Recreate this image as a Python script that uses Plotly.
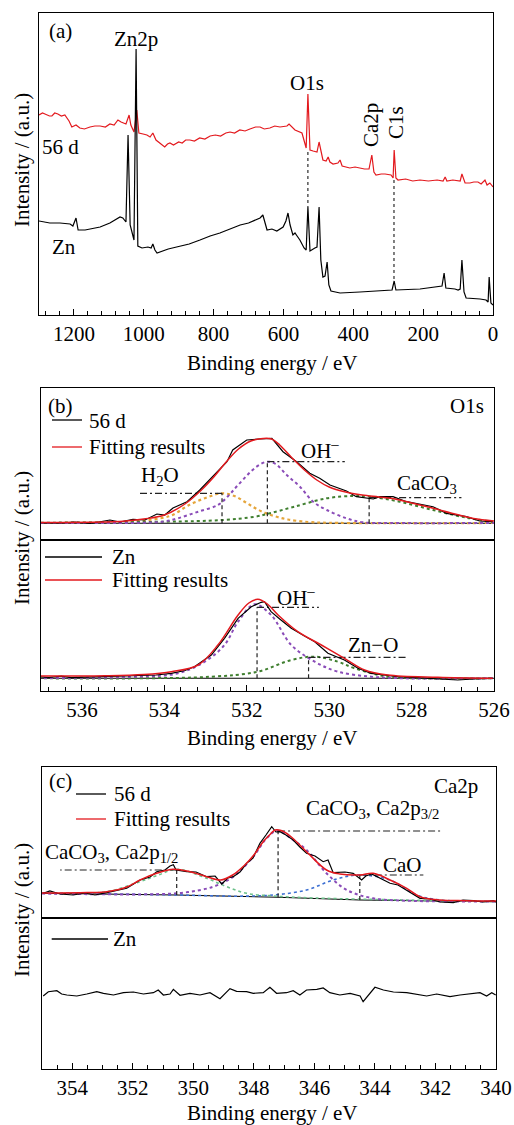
import plotly.graph_objects as go

# ---------------- data: panel (a) XPS survey ----------------
a_56d_be = [1300, 1290, 1283, 1270, 1263, 1255, 1246, 1236, 1226, 1214, 1206, 1194, 1183, 1170, 1154,
            1140, 1125, 1110, 1097, 1085, 1074, 1065, 1051, 1042, 1037, 1028, 1020, 1014, 1002, 991,
            982, 974, 965, 948, 940, 932, 925, 915, 900, 890, 880, 868, 855, 840, 825, 810, 795, 780,
            765, 753, 740, 725, 710, 696, 680, 667, 655, 639, 625, 610, 590, 584, 567, 547, 538, 535,
            530, 524, 515, 504, 498, 493, 487, 478, 472, 467, 458, 444, 438, 432, 420, 410, 395, 381,
            368, 355, 347, 341, 335, 320, 309, 292, 286, 283, 278, 272, 250, 230, 209, 185, 160, 143,
            137, 132, 115, 94, 89, 80, 66, 55, 43, 34, 23, 17, 9, 0]
a_56d_int = [200, 202, 201, 199, 199, 202, 201, 199, 200, 194, 188, 190, 187, 186, 188,
             189, 189, 188, 191, 190, 195, 193, 191, 200, 190, 183, 205, 182, 181, 180,
             178, 182, 175, 170, 168, 171, 172, 170, 173, 172, 175, 175, 174, 177, 176, 179, 180, 179,
             182, 183, 182, 185, 184, 186, 188, 188, 186, 187, 189, 188, 189, 191, 185, 182, 170, 167,
             221, 165, 164, 163, 173, 165, 155, 154, 158, 153, 151, 152, 155, 149, 148, 147, 148, 147,
             146, 146, 160, 143, 140, 141, 141, 140, 137, 165, 137, 135, 136, 134, 135, 134, 135, 134,
             138, 134, 135, 134, 141, 132, 132, 133, 133, 131, 135, 130, 132, 128]
a_zn_be = [1300, 1269, 1240, 1211, 1203, 1194, 1188, 1168, 1125, 1097, 1068, 1060, 1051, 1045, 1039,
           1031, 1028, 1022, 1017, 1005, 988, 979, 974, 968, 962, 930, 896, 870, 839, 810, 782, 750,
           724, 700, 681, 667, 659, 653, 647, 633, 619, 601, 593, 587, 581, 573, 567, 561, 553, 541,
           535, 530, 524, 510, 504, 498, 493, 487, 481, 475, 470, 464, 438, 381, 324, 289, 283, 278,
           209, 158, 146, 140, 135, 109, 100, 94, 89, 83, 77, 37, 20, 14, 11, 6, 0]
a_zn_int = [94, 92, 92, 91, 89, 97, 85, 85, 88, 92, 98, 97, 93, 180, 90, 80, 75, 266, 69, 67, 68, 67,
            71, 65, 62, 66, 69, 71, 75, 79, 82, 86, 90, 92, 95, 97, 100, 93, 85, 86, 84, 88, 94, 102,
            90, 80, 82, 79, 75, 67, 65, 108, 64, 67, 68, 108, 55, 38, 39, 53, 30, 24, 22, 23, 24, 25,
            34, 25, 26, 28, 29, 42, 27, 26, 25, 26, 55, 23, 17, 16, 15, 13, 38, 12, 10]
a_guide_be = [530, 283.5]          # O1s, C1s guides
a_guide_top = [163, 135]
a_guide_bot = [108, 33]
a_ticks = [1200, 1000, 800, 600, 400, 200, 0]

# ---------------- data: panel (b) O1s ----------------
b_56d_be = [537.0, 536.53, 536.17, 535.8, 535.32, 535.08, 534.76, 534.47, 534.18, 533.99, 533.79,
            533.45, 533.14, 532.82, 532.48, 532.34, 532.17, 532.0, 531.68, 531.39, 531.12, 530.79,
            530.47, 530.23, 529.98, 529.58, 529.34, 528.93, 528.77, 528.45, 528.12, 527.88, 527.48,
            527.15, 526.67, 526.35, 526.03]
b_56d_int = [17.3, 17, 18, 16.5, 20, 18, 20.7, 20, 26, 25, 32, 38.3, 50, 63.3, 78.3, 90, 95, 100, 101,
             101.7, 88.3, 78.3, 66.7, 61.7, 55, 49, 43.3, 41, 43.3, 43.3, 38.3, 36.7, 33.3, 26.7, 23.3,
             19, 18.3]
b_56d_fit_be = [537, 535.5, 535, 534.5, 534, 533.5, 533.1, 532.8, 532.5, 532.2, 531.9, 531.6, 531.4,
                531.2, 530.9, 530.6, 530.3, 530.0, 529.6, 529.2, 528.8, 528.4, 528.0, 527.5, 527.0,
                526.5, 526]
b_56d_fit_int = [17.5, 18, 18.7, 21, 25, 36, 50, 63, 78, 91, 99, 101.5, 101, 95, 82, 70, 60, 53, 48,
                 45, 43, 41, 37, 32, 26.5, 21.5, 19]
b_h2o_be = [537, 535.5, 535, 534.5, 534, 533.8, 533.4, 533.0, 532.6, 532.3, 532.05, 531.8, 531.55,
            531.3, 531.0, 530.5, 530.0, 526]
b_h2o_int = [17, 17.3, 18, 19.5, 22.5, 25, 35, 42, 46.7, 44, 38.3, 32, 27, 23.5, 20.5, 18, 17.2, 17]
b_oh_be = [537, 534.5, 534.0, 533.67, 533.18, 532.7, 532.45, 532.21, 531.77, 531.5, 531.3, 531.03,
           530.71, 530.39, 530.06, 529.58, 529.18, 528.5, 526]
b_oh_int = [17, 17.3, 18.5, 21.7, 28.3, 35, 44, 55, 73, 78.3, 76, 65, 53.3, 38.3, 30, 21.7, 17.7, 17, 17]
b_caco3_be = [537, 534, 532.6, 531.8, 531.44, 530.87, 530.06, 529.42, 529.0, 528.29, 527.48, 526.67,
              526.03]
b_caco3_int = [17.3, 18.3, 20, 23.3, 26.7, 33, 41.7, 44, 43.3, 38.3, 30, 22.3, 18.3]
b_top_bg_be = [537, 526]
b_top_bg_int = [16.7, 16.7]
b_top_peak_be = [532.6, 531.5, 529.03]
b_top_peak_int = [46.7, 78.3, 42.3]
b_top_label_end = [534.6, 529.62, 526.79]

b_zn_be = [537.07, 536.8, 536.5, 536.26, 535.9, 535.45, 535.0, 534.64, 534.2, 533.83, 533.5, 533.27,
           532.86, 532.54, 532.21, 531.89, 531.65, 531.57, 531.41, 531.2, 530.92, 530.6, 530.35,
           530.03, 529.63, 529.3, 528.98, 528.33, 527.9, 527.53, 527.2, 526.88, 526.5, 526.03]
b_zn_int = [14.3, 13.5, 14.8, 13.3, 13.8, 14.3, 14.5, 15, 16, 17.7, 20.5, 24.3, 36, 52.7, 72.7, 84.3,
            88.7, 89.3, 79.3, 72, 62.7, 55, 49.3, 37.7, 31, 22.7, 17.7, 14.3, 13.2, 12.7, 11.5, 11,
            12, 12.7]
b_zn_fit_be = [537.07, 535.45, 534.5, 533.83, 533.18, 532.7, 532.21, 531.95, 531.73, 531.5, 531.24,
               530.76, 530.19, 529.63, 529.14, 528.58, 527.36, 526.03]
b_zn_fit_int = [15, 15.3, 16.5, 19.3, 26, 46, 76, 88, 91.7, 87, 76, 59.3, 46, 32.7, 21, 16, 13.7, 12.7]
b_zn_oh_be = [537.07, 534.64, 533.67, 533.02, 532.54, 532.21, 531.81, 531.41, 530.92, 530.35, 529.79,
              528.98, 528.17, 526.03]
b_zn_oh_int = [13, 14.3, 17.7, 29.3, 46, 69.3, 86.7, 76, 46, 29.3, 19.3, 14.3, 12.7, 12.7]
b_zno_be = [537.07, 534.64, 532.86, 531.73, 530.92, 530.35, 529.79, 529.38, 528.58, 527.77, 526.03]
b_zno_int = [12.7, 12.7, 14.3, 19.3, 31, 34.3, 29.3, 22.7, 14.3, 12.7, 12.7]
b_bot_bg_be = [537, 526]
b_bot_bg_int = [12.7, 12.7]
b_bot_peak_be = [531.75, 530.5]
b_bot_peak_int = [83.7, 33.7]
b_bot_label_end = [530.25, 528.09]
b_ticks = [536, 534, 532, 530, 528, 526]

# ---------------- data: panel (c) Ca2p ----------------
c_56d_be = [354.96, 354.74, 354.41, 353.97, 353.58, 353.25, 352.86, 352.59, 352.2, 351.76, 351.43,
            351.21, 350.94, 350.77, 350.66, 350.57, 350.22, 349.91, 349.56, 349.28, 349.06, 348.86,
            348.68, 348.46, 348.24, 348.03, 347.8, 347.6, 347.41, 347.27, 347.14, 346.94, 346.7,
            346.48, 346.26, 345.98, 345.71, 345.55, 345.38, 344.99, 344.72, 344.44, 344.3, 344.11,
            343.83, 343.5, 343.24, 342.95, 342.51, 342.18, 341.85, 341.41, 341.09, 340.75, 340.43,
            340.09, 340.0]
c_56d_int = [24.7, 27, 24, 23, 25, 23, 25.3, 27, 29.7, 38, 41, 46.3, 48, 52, 53.3, 48, 46.3, 46, 41.3,
             42, 34, 40, 41.3, 46, 54.7, 60, 74.7, 83, 91.3, 86, 86.3, 83, 78, 71, 64.7, 62, 56.3, 58,
             45.3, 46, 44.7, 38, 42, 44, 40, 34.7, 33, 28, 19.7, 19, 16, 15.3, 18, 17.3, 16, 17.3, 16]
c_fit_be = [355, 353.5, 352.86, 352.2, 351.76, 351.21, 350.66, 350.11, 349.56, 349.1, 348.7, 348.3,
            348.0, 347.7, 347.45, 347.3, 347.1, 346.8, 346.26, 345.6, 345.16, 344.49, 344.06, 343.5,
            342.95, 342.51, 341.85, 341, 340]
c_fit_int = [25, 25.5, 26.3, 31, 38, 44.7, 48.7, 46.3, 41.3, 38, 43, 53, 63, 76, 84, 88, 87.5, 82,
             66.3, 48, 44, 43, 44.7, 38, 29.7, 21.3, 18, 17.3, 17]
c_p32_be = [355, 351.5, 350.33, 349.34, 348.68, 348.02, 347.58, 347.23, 346.7, 346.26, 345.6, 344.93,
            344.06, 342.95, 340]
c_p32_int = [24.5, 23.7, 25.3, 31.3, 41.3, 61.3, 79.7, 87.3, 78, 68, 44.7, 28, 19.7, 17.3, 16.5]
c_p12_be = [355, 354, 352.86, 351.76, 351.21, 350.55, 349.56, 348.9, 348.24, 347.36, 346, 340]
c_p12_int = [24.8, 24.7, 26.3, 36.3, 42.3, 48.7, 39.7, 31.3, 24.7, 22, 20, 16.5]
c_cao_be = [355, 350.5, 348.5, 347.36, 346.26, 345.38, 344.55, 343.5, 342.62, 341.85, 340]
c_cao_int = [24.7, 23, 21.8, 23, 28, 38, 43, 38, 23, 18, 17]
c_bg_be = [355, 350.55, 347.2, 344.5, 340]
c_bg_int = [24.7, 23, 20.7, 18, 16.3]
c_peak_be = [350.55, 347.2, 344.5]
c_peak_int = [48, 87, 43]
c_peak_base = [23, 20.7, 18]
c_label_end = [354.4, 341.75, 342.4]

c_zn_be = [354.96, 354.79, 354.51, 354.35, 354.18, 353.85, 353.52, 353.19, 352.97, 352.64, 352.31,
           351.98, 351.65, 351.32, 351.16, 350.99, 350.77, 350.66, 350.44, 350.11, 349.78, 349.45,
           349.12, 348.9, 348.79, 348.57, 348.24, 348.02, 347.69, 347.47, 347.25, 346.92, 346.7,
           346.48, 346.26, 345.92, 345.71, 345.49, 345.16, 344.82, 344.49, 344.39, 344.16, 344.0,
           343.72, 343.39, 342.95, 342.62, 342.29, 341.96, 341.52, 341.19, 340.86, 340.53, 340.31,
           340.14, 340.01]
c_zn_int = [73, 77.3, 78.3, 75, 74, 73, 75, 77.3, 75.7, 74, 76.3, 77, 75, 76.3, 79, 74, 75, 79.7, 73.7,
            75.7, 74, 76.3, 70.3, 76.3, 80.3, 77.7, 77.3, 75.7, 76.3, 81.7, 75.7, 76.3, 78.3, 74, 79,
            79.7, 81, 76.3, 74, 75.7, 73, 67.3, 76.3, 81.7, 79, 77, 76.3, 75, 73, 75, 72.3, 74, 75,
            76.3, 73, 76.3, 74]
c_ticks = [354, 352, 350, 348, 346, 344, 342, 340]

# ---------------- styling ----------------
FONT = "Liberation Serif, Times New Roman, serif"
FS = 21
W, H = 514, 1125
BLACK = "#000000"
RED = "#E3191E"
ORANGE = "#E5A53A"
PURPLE = "#8A4CB8"
GREEN = "#3F7F2F"
LGREEN = "#6CC08A"
BLUE = "#3C6FD2"
MARK = "#222222"


def fx(p):
    return p / W


def fy(p):
    return 1 - p / H


fig = go.Figure()


def line(x, y, ax, color, width=1.2, dash="solid", shape="linear"):
    fig.add_trace(go.Scatter(x=x, y=y, xaxis="x" + ax, yaxis="y" + ax, mode="lines",
                             line=dict(color=color, width=width, dash=dash, shape=shape),
                             showlegend=False, hoverinfo="skip"))


def peak_marks(pos, top, base, end, ax):
    for i in range(len(pos)):
        b = base[i] if isinstance(base, list) else base
        line([pos[i], pos[i]], [b, top[i]], ax, MARK, 1.2, "4px,3px")
        line([pos[i], end[i]], [top[i], top[i]], ax, MARK, 1.2, "7px,3px,2px,3px")


# panel (a)
line(a_56d_be, a_56d_int, "", RED, 1.2)
line(a_zn_be, a_zn_int, "", BLACK, 1.2)
for i in range(len(a_guide_be)):
    line([a_guide_be[i], a_guide_be[i]], [a_guide_top[i], a_guide_bot[i]], "", BLACK, 1.0, "dot")

# panel (b) top
line(b_top_bg_be, b_top_bg_int, "2", BLACK, 1.1)
line(b_h2o_be, b_h2o_int, "2", ORANGE, 2.2, "dot", "spline")
line(b_caco3_be, b_caco3_int, "2", GREEN, 2.0, "dot", "spline")
line(b_oh_be, b_oh_int, "2", PURPLE, 2.0, "dot", "spline")
peak_marks(b_top_peak_be, b_top_peak_int, b_top_bg_int[0], b_top_label_end, "2")
line(b_56d_be, b_56d_int, "2", BLACK, 1.2)
line(b_56d_fit_be, b_56d_fit_int, "2", RED, 1.5, "solid", "spline")

# panel (b) bottom
line(b_bot_bg_be, b_bot_bg_int, "3", BLACK, 1.1)
line(b_zno_be, b_zno_int, "3", GREEN, 2.0, "dot", "spline")
line(b_zn_oh_be, b_zn_oh_int, "3", PURPLE, 2.0, "dot", "spline")
peak_marks(b_bot_peak_be, b_bot_peak_int, b_bot_bg_int[0], b_bot_label_end, "3")
line(b_zn_be, b_zn_int, "3", BLACK, 1.2)
line(b_zn_fit_be, b_zn_fit_int, "3", RED, 1.5, "solid", "spline")

# panel (c) top
line(c_bg_be, c_bg_int, "4", BLACK, 1.1)
line(c_cao_be, c_cao_int, "4", BLUE, 1.6, "dot", "spline")
line(c_p12_be, c_p12_int, "4", LGREEN, 1.6, "dot", "spline")
line(c_p32_be, c_p32_int, "4", PURPLE, 2.0, "dot", "spline")
peak_marks(c_peak_be, c_peak_int, c_peak_base, c_label_end, "4")
line(c_56d_be, c_56d_int, "4", BLACK, 1.2)
line(c_fit_be, c_fit_int, "4", RED, 1.5, "solid", "spline")

# panel (c) bottom
line(c_zn_be, c_zn_int, "5", BLACK, 1.2)

# ---------------- axes ----------------
ax_common = dict(showline=True, mirror=True, linecolor=BLACK, linewidth=1.3, showgrid=False,
                 zeroline=False, automargin=False,
                 tickfont=dict(family=FONT, size=FS, color=BLACK))


def xaxis(dom, rng, anchor, tickvals=None, minor_dt=None, labels=True):
    d = dict(ax_common, domain=[fx(dom[0]), fx(dom[1])], range=rng, anchor=anchor)
    if labels:
        d.update(tickmode="array", tickvals=tickvals, ticks="inside", ticklen=6, tickwidth=1.2,
                 tickcolor=BLACK, showticklabels=True,
                 minor=dict(dtick=minor_dt, tick0=tickvals[-1], ticks="inside", ticklen=3.5,
                            tickwidth=1.1, tickcolor=BLACK))
    else:
        d.update(ticks="", showticklabels=False)
    return d


def yaxis(top, bot, rng, anchor):
    return dict(ax_common, domain=[fy(bot), fy(top)], range=rng, anchor=anchor,
                ticks="", showticklabels=False)


fig.update_layout(
    template="none",
    width=W, height=H,
    margin=dict(l=0, r=0, t=0, b=0),
    paper_bgcolor="white", plot_bgcolor="white",
    showlegend=False,
    font=dict(family=FONT, size=FS, color=BLACK),
    xaxis=xaxis((39, 493), [1300, 0], "y", a_ticks, 40),
    yaxis=yaxis(12.7, 315, [0, 302.3], "x"),
    xaxis2=xaxis((40.7, 494), [537, 526], "y2", labels=False),
    yaxis2=yaxis(388, 540, [0, 152], "x2"),
    xaxis3=xaxis((40.7, 494), [537, 526], "y3", b_ticks, 0.4),
    yaxis3=yaxis(540, 691, [0, 151], "x3"),
    xaxis4=xaxis((42, 496), [355, 340], "y4", labels=False),
    yaxis4=yaxis(767, 918, [0, 151], "x4"),
    xaxis5=xaxis((42, 496), [355, 340], "y5", c_ticks, 0.5),
    yaxis5=yaxis(918, 1069, [0, 151], "x5"),
)


# ---------------- texts ----------------
def txt(text, x, y, xref="paper", yref="paper", angle=0, xanchor="center", size=FS):
    if xref == "paper":
        x = fx(x)
    if yref == "paper":
        y = fy(y)
    fig.add_annotation(text=text, x=x, y=y, xref=xref, yref=yref, showarrow=False,
                       textangle=angle, xanchor=xanchor, yanchor="middle",
                       font=dict(family=FONT, size=size, color=BLACK))


def legend_line(x0, x1, y, color):
    fig.add_shape(type="line", xref="paper", yref="paper", x0=fx(x0), x1=fx(x1), y0=fy(y), y1=fy(y),
                  line=dict(color=color, width=1.3))


for yc in (363, 738, 1113):
    txt("Binding energy / eV", 272.7, yc)
for yc in (160, 538, 910):
    txt("Intensity / (a.u.)", 22, yc, angle=-90)

# panel (a) labels
txt("(a)", 60, 31)
txt("Zn2p", 136, 39)
txt("O1s", 307, 83)
txt("Ca2p", 371, 125, angle=-90)
txt("C1s", 395.5, 122.5, angle=-90)
txt("56 d", 60, 147)
txt("Zn", 64, 247)

# panel (b) labels
txt("(b)", 60.5, 406)
txt("O1s", 486, 406, xanchor="right")
legend_line(52, 82, 420, BLACK)
txt("56 d", 87, 421, xanchor="left")
legend_line(52, 82, 447, RED)
txt("Fitting results", 87, 447, xanchor="left")
txt("H<sub>2</sub>O", 534.1, 64, "x2", "y2")
txt("OH<sup>\u2013</sup>", 530.23, 91, "x2", "y2")
txt("CaCO<sub>3</sub>", 527.63, 56, "x2", "y2")
legend_line(45, 102, 557, BLACK)
txt("Zn", 110, 557, xanchor="left")
legend_line(45, 102, 580, RED)
txt("Fitting results", 110, 580, xanchor="left")
txt("OH<sup>\u2013</sup>", 530.8, 95, "x3", "y3")
txt("Zn\u2212O", 528.94, 46.5, "x3", "y3")

# panel (c) labels
txt("(c)", 60, 781)
txt("Ca2p", 480, 786, xanchor="right")
legend_line(76, 106, 794, BLACK)
txt("56 d", 111.7, 794, xanchor="left")
legend_line(76, 106, 819, RED)
txt("Fitting results", 111.7, 819, xanchor="left")
txt("CaCO<sub>3</sub>, Ca2p<sub>1/2</sub>", 352.69, 65, "x4", "y4")
txt("CaCO<sub>3</sub>, Ca2p<sub>3/2</sub>", 344.08, 109, "x4", "y4")
txt("CaO", 343.09, 53.5, "x4", "y4")
legend_line(51.7, 108, 939, BLACK)
txt("Zn", 111, 939, xanchor="left")

fig.write_html("out.html")
